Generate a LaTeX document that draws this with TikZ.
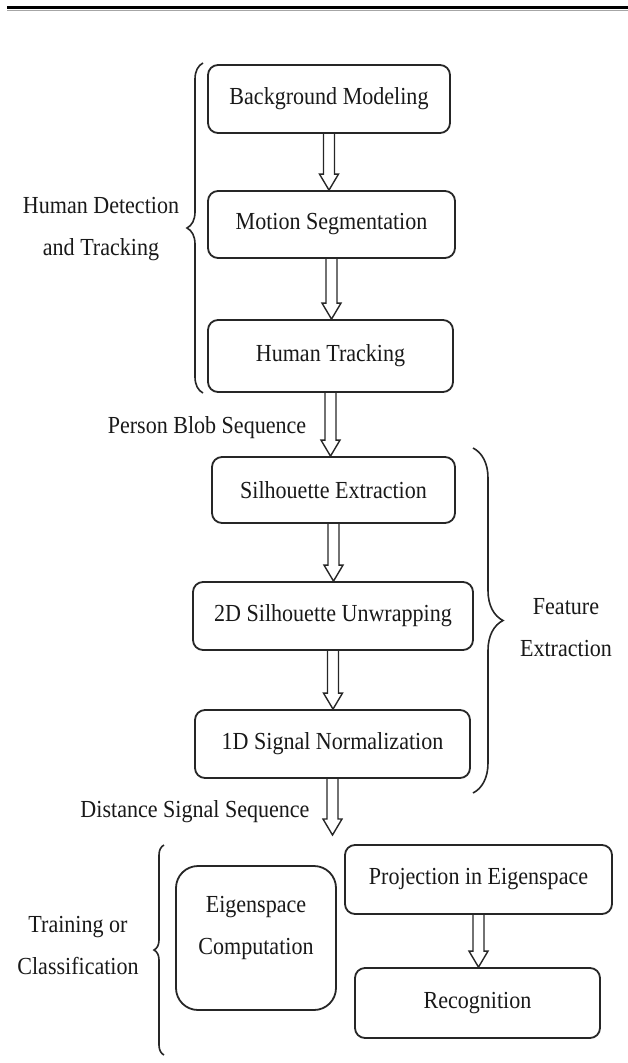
\documentclass[tikz,border=0pt]{standalone}
\usepackage{fontspec}
\setmainfont{Liberation Serif}[FakeStretch=0.9]
\usetikzlibrary{calc,decorations.pathreplacing}

\begin{document}
\begin{tikzpicture}[x=1pt, y=-1pt, font=\fontsize{24.5}{42}\selectfont,
		stage/.style = {draw=black!85, line width=1.8pt, rounded corners=10pt, minimum height=68pt, text=black!90},
		hollow/.style = {draw=black!85, line width=1.4pt, to path={let \p1=(\tikztostart), \p2=(\tikztotarget) in
			(\x1-5.5pt,\y1) -- (\x1-5.5pt,\y2+16pt) -- (\x1-9.5pt,\y2+16pt) -- (\x1,\y2)
			-- (\x1+9.5pt,\y2+16pt) -- (\x1+5.5pt,\y2+16pt) -- (\x1+5.5pt,\y1)}},
		tag/.style = {align=center, text=black!90},
		curly/.style = {draw=black!85, line width=1.6pt, decorate, decoration={brace, amplitude=#1}}]
	\useasboundingbox (0,0) rectangle (628,1063);

	% rule at the top
	\draw[line width=3.5pt] (7,7.3) -- (628,7.3);
	\draw[black!35, line width=1.2pt] (7,10.2) -- (628,10.2);

	% detection and tracking
	\node[stage, minimum width=242pt] (bm) at (329,99) {Background Modeling};
	\node[stage, minimum width=247pt, minimum height=67pt] (ms) at (331.5,224.5) {Motion Segmentation};
	\node[stage, minimum width=245pt, minimum height=72pt] (ht) at (330.5,356) {Human Tracking};

	% feature extraction
	\node[stage, minimum width=243pt, minimum height=66pt] (se) at (333.5,490) {Silhouette Extraction};
	\node[stage, minimum width=280pt] (su) at (333,616) {2D Silhouette Unwrapping};
	\node[stage, minimum width=275pt] (sn) at (332.5,744) {1D Signal Normalization};
	\coordinate (dss) at (333,835);

	% training or classification
	\node[stage, minimum width=160pt, minimum height=144pt, rounded corners=22pt,
		label={[tag, yshift=10pt]center:Eigenspace\\Computation}] (ec) at (256,938) {};
	\node[stage, minimum width=267pt, minimum height=69pt] (pe) at (478.5,879.5) {Projection in Eigenspace};
	\node[stage, minimum width=245pt, minimum height=70pt] (rc) at (477.5,1003) {Recognition};

	\draw[hollow] (bm.south) to (ms.north);
	\draw[hollow] (ms.south) to (ht.north);
	\draw[hollow] (ht.south) to (se.north);
	\draw[hollow] (se.south) to (su.north);
	\draw[hollow] (su.south) to (sn.north);
	\draw[hollow] (sn.south) to (dss);
	\draw[hollow] (pe.south) to (rc.north);

	% braces and their texts
	\draw[curly=16pt] (203,393) -- (203,63);
	\draw[curly=30pt] (473,448) -- (473,793);
	\draw[curly=10pt] (164,1055) -- (164,845);
	\node[tag] (hdt) at (101,229) {Human Detection\\and Tracking};
	\node[tag] (fe) at (566,628) {Feature\\Extraction};
	\node[tag] (tc) at (78,945) {Training or\\Classification};
	\node[tag] (pbs) at (207,428) {Person Blob Sequence};
	\node[tag] (dsl) at (195,812) {Distance Signal Sequence};
\end{tikzpicture}
\end{document}
